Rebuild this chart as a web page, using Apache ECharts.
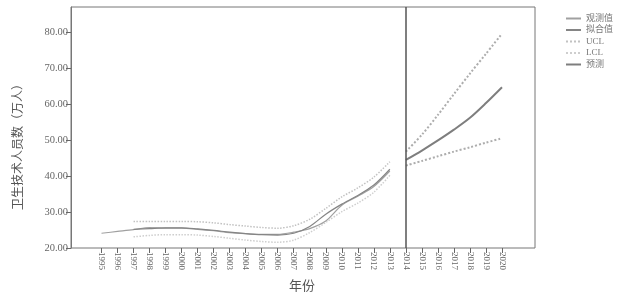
<!DOCTYPE html>
<html><head><meta charset="utf-8">
<script src="https://cdn.jsdelivr.net/npm/echarts@6/dist/echarts.min.js"></script>
<style>html,body{margin:0;padding:0;background:#fff}#c{width:617px;height:297px}</style>
</head><body><div id="c"></div>
<script>
const years = ['1995','1996','1997','1998','1999','2000','2001','2002','2003','2004','2005','2006','2007','2008','2009','2010','2011','2012','2013','2014','2015','2016','2017','2018','2019','2020'];
const yTicks = ['20.00','30.00','40.00','50.00','60.00','70.00','80.00'];
const observed = [24.1,24.6,25.1,25.7,25.5,25.5,25.2,24.8,24.3,24.0,23.8,23.8,24.4,25.4,27.5,31.9,34.4,37.1,41.4,null,null,null,null,null,null,null];
const fitted   = [null,null,25.2,25.4,25.6,25.6,25.3,24.9,24.4,24.0,23.7,23.6,24.1,26.0,29.4,32.2,34.6,37.5,41.9,null,null,null,null,null,null,null];
const uclHist  = [null,null,27.4,27.4,27.4,27.4,27.3,27.0,26.5,26.1,25.7,25.5,26.2,28.0,31.0,34.2,36.7,39.7,44.0,null,null,null,null,null,null,null];
const lclHist  = [null,null,23.1,23.5,23.7,23.7,23.6,23.2,22.7,22.2,21.8,21.6,22.2,24.3,27.1,30.1,32.5,35.5,40.2,null,null,null,null,null,null,null];
const forecast = [null,null,null,null,null,null,null,null,null,null,null,null,null,null,null,null,null,null,null,44.5,47.1,49.9,52.9,56.2,60.3,64.7];
const uclFc    = [null,null,null,null,null,null,null,null,null,null,null,null,null,null,null,null,null,null,null,46.8,51.5,57.0,62.8,68.5,74.0,79.6];
const lclFc    = [null,null,null,null,null,null,null,null,null,null,null,null,null,null,null,null,null,null,null,42.9,44.2,45.5,46.8,48.0,49.3,50.5];
const forecastStart = '2014';

const serif = "'Liberation Serif','DejaVu Serif','Noto Sans CJK SC',serif";
const chart = echarts.init(document.getElementById('c'));
function line(name, data, color, width, type) {
  return {name, type:'line', data, xAxisIndex:0, yAxisIndex:0, symbol:'none', smooth:0.3,
    connectNulls:false, lineStyle:{color, width, type}, itemStyle:{color}, animation:false};
}
const fcSeries = line('预测', forecast, '#7e7e7e', 2, 'solid');
fcSeries.markLine = {silent:true, symbol:'none', animation:false, label:{show:false},
  lineStyle:{color:'#555', width:1.5, type:'solid'}, data:[{xAxis:forecastStart}]};
chart.setOption({
  animation:false,
  grid:[
    {left:101.5, right:115, top:7, bottom:49, show:false},
    {left:71, right:82, top:7, bottom:49, show:true, borderColor:'#777', borderWidth:1}
  ],
  xAxis:[
    {gridIndex:0, type:'category', data:years, boundaryGap:false,
     axisLine:{show:false}, axisTick:{show:true, interval:0, length:5, lineStyle:{color:'#666'}},
     axisLabel:{interval:0, rotate:-90, margin:4, fontSize:9, color:'#666', fontFamily:serif},
     splitLine:{show:false}},
    {gridIndex:1, type:'value', min:0, max:1, axisLine:{show:false}, axisTick:{show:false},
     axisLabel:{show:false}, splitLine:{show:false}}
  ],
  yAxis:[
    {gridIndex:0, type:'value', min:20, max:87, show:false, splitLine:{show:false}},
    {gridIndex:1, type:'value', min:20, max:87, interval:10,
     axisLine:{show:true, lineStyle:{color:'#777'}},
     axisTick:{show:true, length:5, lineStyle:{color:'#666'}},
     axisLabel:{showMaxLabel:false, margin:3, fontSize:10.5, color:'#666', fontFamily:serif,
       formatter:v => { const i = Math.round((v-20)/10); return yTicks[i] || ''; }},
     splitLine:{show:false}}
  ],
  legend:{orient:'vertical', left:560, top:9, itemWidth:15, itemHeight:9, itemGap:2.5, itemStyle:{opacity:0},
    textStyle:{fontSize:9, color:'#777', fontFamily:serif},
    data:['观测值','拟合值','UCL','LCL','预测']},
  graphic:[
    {type:'text', x:17, y:144, rotation:Math.PI/2, style:{text:'卫生技术人员数（万人）', fill:'#555',
      font:"12px 'Noto Sans CJK SC'", textAlign:'center', textVerticalAlign:'middle'}},
    {type:'text', x:302, y:285, style:{text:'年份', fill:'#555', font:"13px 'Noto Sans CJK SC'",
      textAlign:'center', textVerticalAlign:'middle'}}
  ],
  series:[
    line('观测值', observed, '#a0a0a0', 1.2, 'solid'),
    line('拟合值', fitted, '#858585', 1.2, 'solid'),
    line('UCL', uclHist, '#c2c2c2', 1.5, 'dotted'),
    line('LCL', lclHist, '#cecece', 1.5, 'dotted'),
    fcSeries,
    line('UCL', uclFc, '#adadad', 2, 'dotted'),
    line('LCL', lclFc, '#adadad', 2, 'dotted')
  ]
});
</script></body></html>
